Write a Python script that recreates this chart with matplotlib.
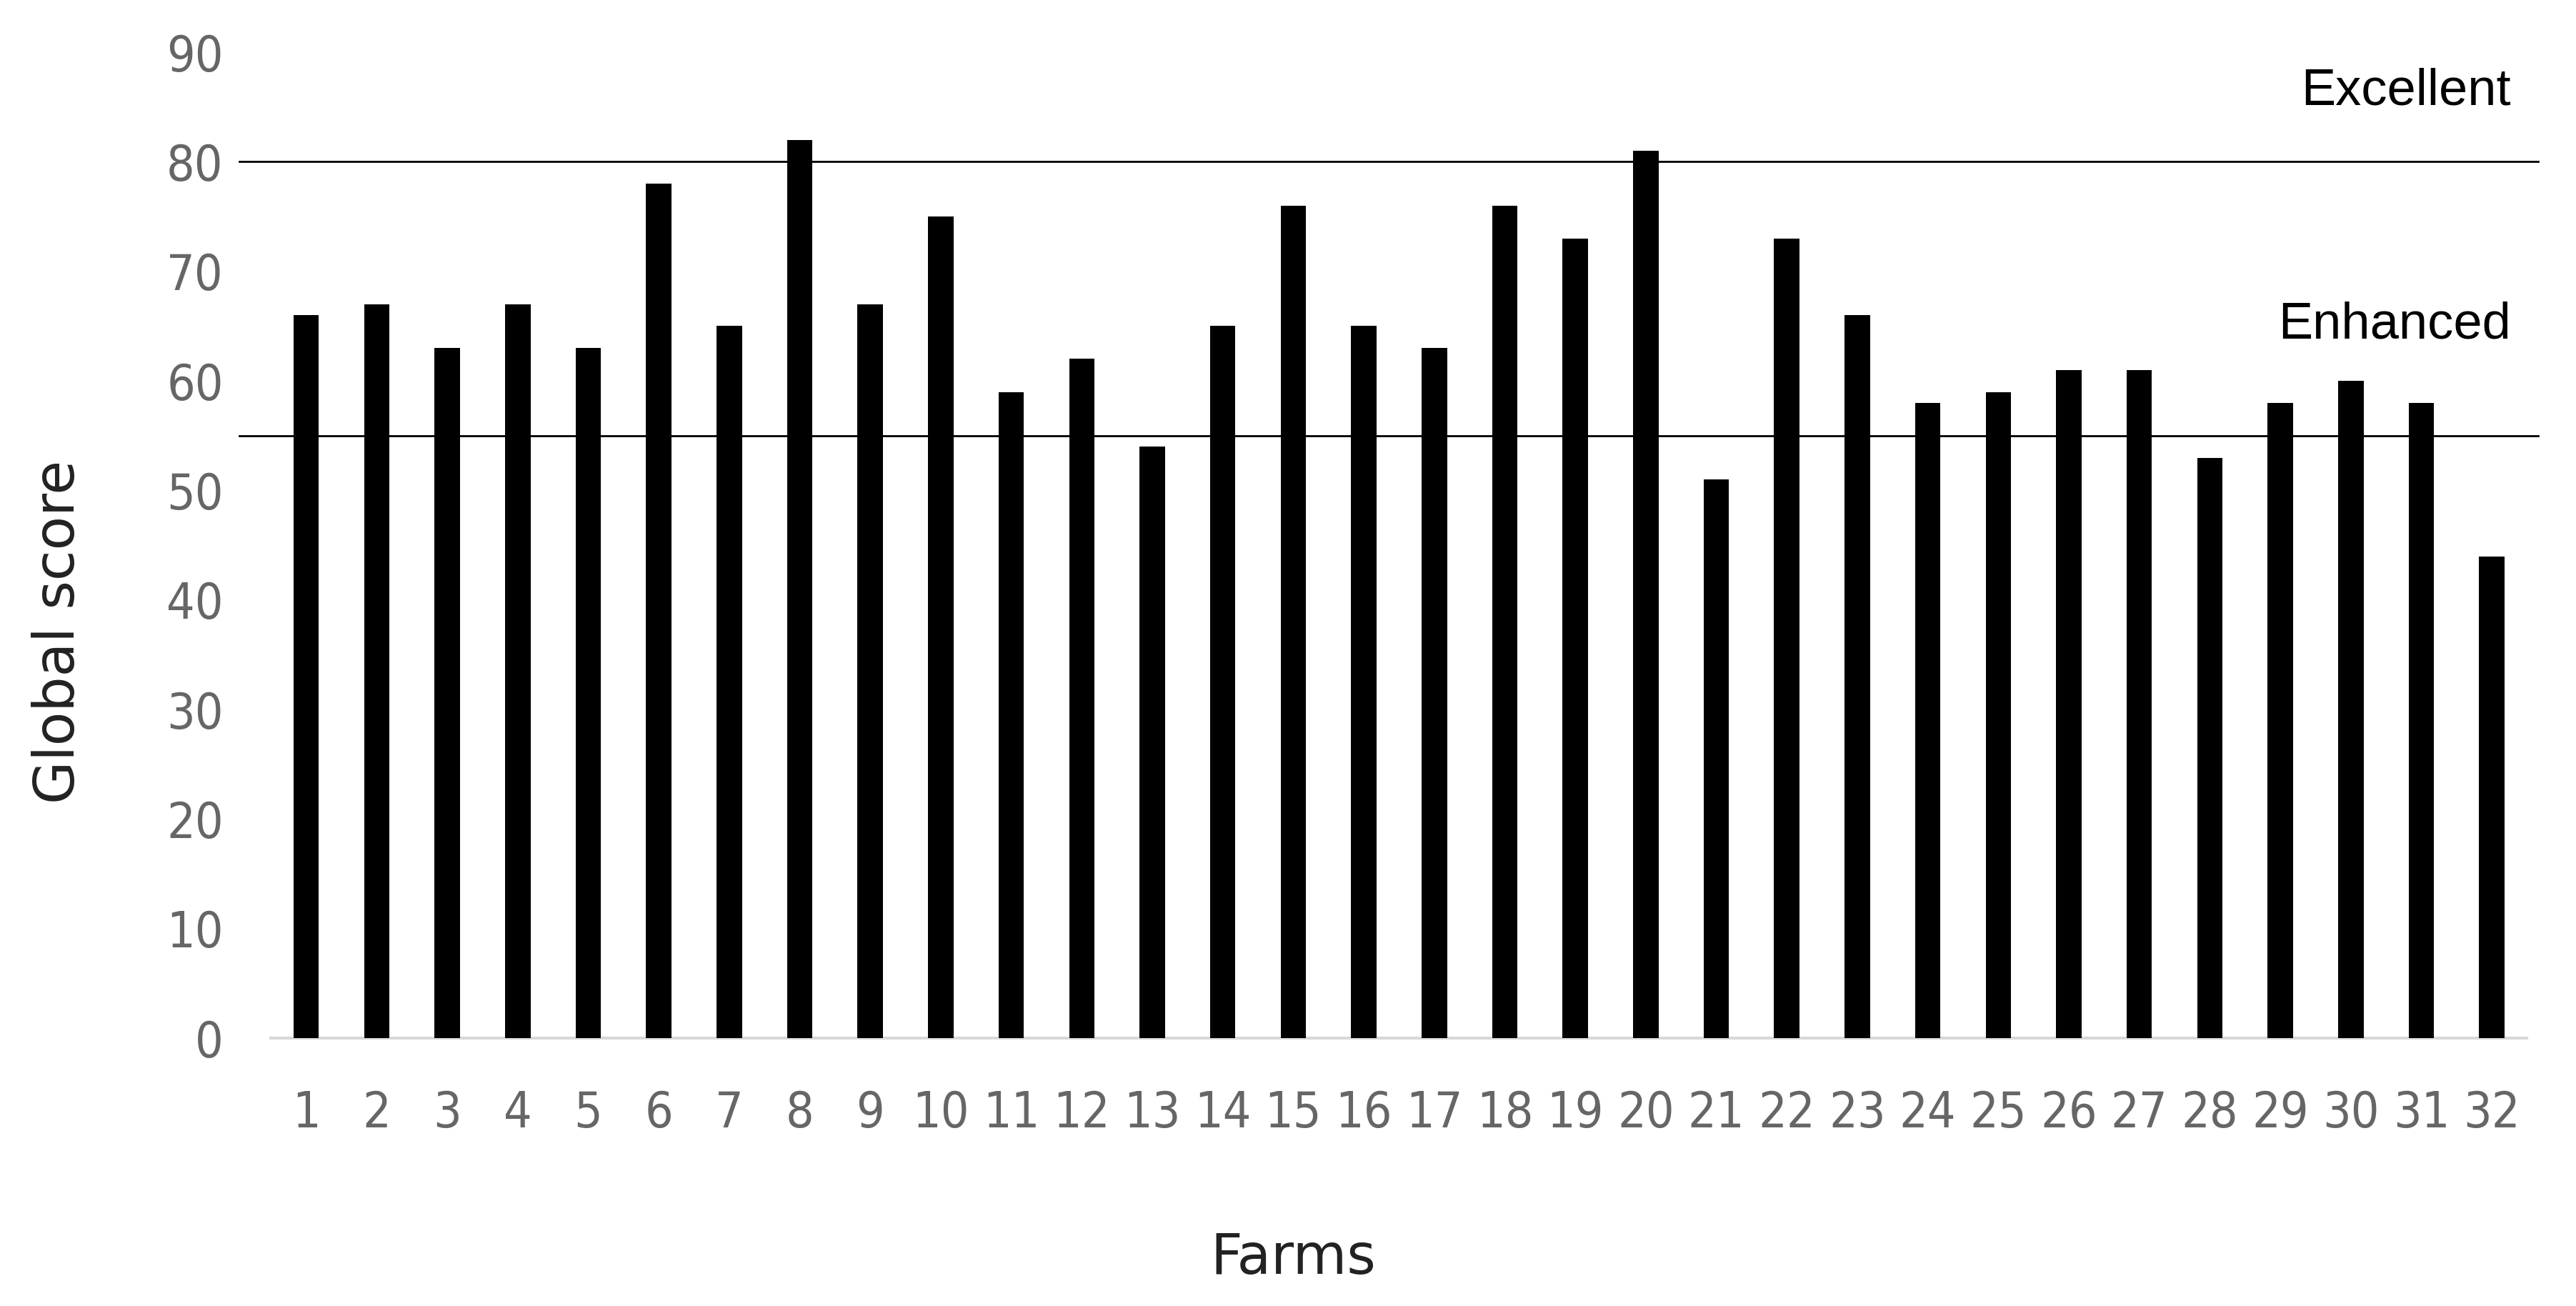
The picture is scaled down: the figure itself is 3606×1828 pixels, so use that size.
import numpy as np
import matplotlib
matplotlib.use("Agg")
import matplotlib.pyplot as plt

# Global score per farm
farms = list(range(1, 33))
scores = [66, 67, 63, 67, 63, 78, 65, 82, 67, 75, 59, 62, 54, 65, 76, 65,
          63, 76, 73, 81, 51, 73, 66, 58, 59, 61, 61, 53, 58, 60, 58, 44]

# threshold lines and their labels
thresholds = [80, 55]
threshold_labels = ["Excellent", "Enhanced"]
label_y = [86.4, 65.1]

yticks = list(range(0, 91, 10))

fig = plt.figure(figsize=(18.03, 9.14), dpi=200)
ax = fig.add_axes([0.1052, 0.205, 0.8758, 0.755])

ax.bar(farms, scores, width=0.36, color="black", zorder=3)

for t in thresholds:
    ax.plot([0.05, 32.66], [t, t], color="black", lw=1.0, clip_on=False, zorder=2)

for lab, ly in zip(threshold_labels, label_y):
    ax.text(32.27, ly, lab, ha="right", va="center", fontsize=26,
            family="Liberation Sans", color="black")

ax.set_xlim(0.5, 32.5)
ax.set_ylim(0, 90)
ax.set_xticks(farms)
ax.set_xticklabels([str(f) for f in farms])
ax.set_yticks(yticks)

for s in ["top", "right", "left"]:
    ax.spines[s].set_visible(False)
ax.spines["bottom"].set_color("#d9d9d9")
ax.spines["bottom"].set_linewidth(1.5)

ax.tick_params(axis="both", length=0, labelsize=25, labelcolor="#666666")
ax.tick_params(axis="x", pad=26)
ax.tick_params(axis="y", pad=24)
for lbl in ax.get_xticklabels() + ax.get_yticklabels():
    lbl.set_fontstretch("condensed")

ax.set_ylabel("Global score", fontsize=28, color="#222222", va="center")
ax.set_xlabel("Farms", fontsize=28, color="#222222", va="center")
ax.yaxis.set_label_coords(-0.094, 0.412)
ax.xaxis.set_label_coords(0.453, -0.223)

fig.savefig("out.png", dpi=200, facecolor="white")
